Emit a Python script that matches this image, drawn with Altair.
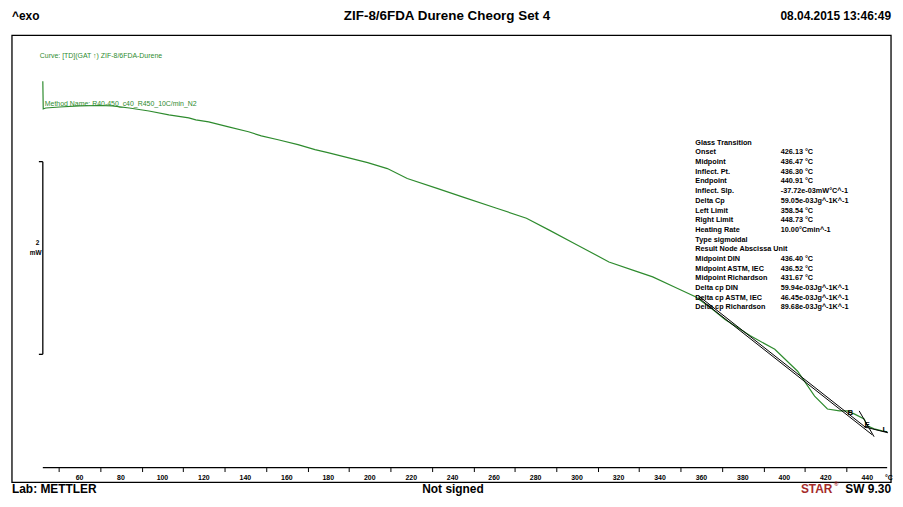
import altair as alt
import pandas as pd

# ---------------- data ----------------
curve_T = [42.3, 42.5, 43.7, 50.4, 60.0, 69.6, 75.8, 84.0, 93.5, 103.1,
           112.7, 116.1, 122.3, 131.9, 141.5, 147.7, 155.8, 165.4, 173.6, 179.8,
           189.4, 199.0, 208.5, 218.1, 232.5, 245.4, 261.2, 275.6, 286.6, 299.6,
           315.4, 328.3, 336.5, 347.5, 357.1, 364.3, 371.4, 383.4, 395.4, 406.4,
           414.6, 420.8, 426.6, 430.4, 433.7, 438.5, 440.0, 443.3, 447.2, 449.6]
curve_mW = [0.010, -0.278, -0.268, -0.258, -0.247, -0.242, -0.247, -0.268, -0.299, -0.340,
            -0.371, -0.392, -0.412, -0.464, -0.515, -0.557, -0.598, -0.649, -0.701, -0.732,
            -0.784, -0.835, -0.897, -1.000, -1.103, -1.196, -1.309, -1.412, -1.536, -1.684,
            -1.866, -1.961, -2.021, -2.131, -2.227, -2.340, -2.464, -2.629, -2.773, -3.000,
            -3.258, -3.392, -3.412, -3.412, -3.443, -3.495, -3.567, -3.598, -3.619, -3.629]

# evaluation (tangent / baseline) lines
seg_id = ["a", "a", "b", "b", "c", "c", "d", "d"]
seg_T = [358.5, 442.4, 358.5, 439.5, 436.1, 443.3, 438.5, 450.0]
seg_mW = [-2.237, -3.660, -2.216, -3.588, -3.412, -3.680, -3.577, -3.639]

# evaluation point markers
mark_txt = ["B", "E", "L"]
mark_T = [431.8, 440.0, 448.5]
mark_mW = [-3.433, -3.557, -3.610]

# y scale bar (2 mW)
bar_top = -0.825
bar_bottom = -2.825
bar_T = 42.3
bar_stub_T = 40.4

# x axis
tick_values = list(range(50, 441, 10))
label_values = list(range(60, 441, 20))
axis_start = 42.3
axis_end = 449.6

# result table
tbl_labels = ["Glass Transition", "Onset", "Midpoint", "Inflect. Pt.", "Endpoint",
              "Inflect. Slp.", "Delta Cp", "Left Limit", "Right Limit", "Heating Rate",
              "Type sigmoidal", "Result Node Abscissa Unit", "Midpoint DIN",
              "Midpoint ASTM, IEC", "Midpoint Richardson", "Delta cp DIN",
              "Delta cp ASTM, IEC", "Delta cp Richardson"]
tbl_values = ["", "426.13 °C", "436.47 °C", "436.30 °C", "440.91 °C",
              "-37.72e-03mW°C^-1", "59.05e-03Jg^-1K^-1", "358.54 °C", "448.73 °C",
              "10.00°Cmin^-1", "", "", "436.40 °C", "436.52 °C", "431.67 °C",
              "59.94e-03Jg^-1K^-1", "46.45e-03Jg^-1K^-1", "89.68e-03Jg^-1K^-1"]

title_txt = "ZIF-8/6FDA Durene Cheorg Set 4"
date_txt = "08.04.2015 13:46:49"
exo_txt = "^exo"
lab_txt = "Lab: METTLER"
sign_txt = "Not signed"
curve_txt = "Curve: [TD](GAT ↑) ZIF-8/6FDA-Durene"
method_txt = "Method Name: R40-450_c40_R450_10C/min_N2"

# ---------------- chart ----------------
W, H = 885, 435
FONT = "Liberation Sans"
GREEN = "#2e8b2e"

xs = alt.Scale(domain=[27.42, 451.47], nice=False, zero=False)
ys = alt.Scale(domain=[-4.0, 0.4845], nice=False, zero=False)

curve_df = pd.DataFrame({"T": curve_T, "mW": curve_mW, "i": range(len(curve_T))})
seg_df = pd.DataFrame({"seg": seg_id, "T": seg_T, "mW": seg_mW})
mk_df = pd.DataFrame({"t": mark_txt, "T": mark_T, "mW": mark_mW})
tbl_df = pd.DataFrame({"lab": tbl_labels, "val": tbl_values, "row": range(len(tbl_labels))})
lbl_df = pd.DataFrame({"T": label_values, "s": [str(v) for v in label_values]})
one = pd.DataFrame({"k": [0]})

frame = alt.Chart(one).mark_rect(fill=None, stroke="black", strokeWidth=1.3).encode(
    x=alt.value(0), x2=alt.value(W), y=alt.value(0), y2=alt.value(450))

curve = alt.Chart(curve_df).mark_line(color=GREEN, strokeWidth=1.2).encode(
    x=alt.X("T:Q", scale=xs, axis=alt.Axis(
        values=tick_values, labels=False,
        grid=False, domain=False, tickColor="black", tickSize=4, tickWidth=1,
        title=None)),
    y=alt.Y("mW:Q", scale=ys, axis=None),
    order="i:Q")

segs = alt.Chart(seg_df).mark_line(color="black", strokeWidth=1).encode(
    x=alt.X("T:Q", scale=xs), y=alt.Y("mW:Q", scale=ys), detail="seg:N")

marks = alt.Chart(mk_df).mark_text(font=FONT, fontSize=8, fontWeight="bold", color="black").encode(
    x=alt.X("T:Q", scale=xs), y=alt.Y("mW:Q", scale=ys), text="t:N")

xlabels = alt.Chart(lbl_df).mark_text(font=FONT, fontSize=7, fontWeight="bold", color="black",
                                      align="center", baseline="middle").encode(
    x=alt.X("T:Q", scale=xs), y=alt.value(H + 11), text="s:N")

axis_line = alt.Chart(one).mark_rule(color="black", strokeWidth=1.3).encode(
    x=alt.datum(axis_start, scale=xs), x2=alt.datum(axis_end), y=alt.value(H))

bar_v = alt.Chart(one).mark_rule(color="black", strokeWidth=1.3).encode(
    x=alt.datum(bar_T, scale=xs), y=alt.datum(bar_top, scale=ys), y2=alt.datum(bar_bottom))
bar_h1 = alt.Chart(one).mark_rule(color="black", strokeWidth=1.3).encode(
    x=alt.datum(bar_stub_T, scale=xs), x2=alt.datum(bar_T), y=alt.datum(bar_top, scale=ys))
bar_h2 = alt.Chart(one).mark_rule(color="black", strokeWidth=1.3).encode(
    x=alt.datum(bar_stub_T, scale=xs), x2=alt.datum(bar_T), y=alt.datum(bar_bottom, scale=ys))


def txt(s, x, y, size=7, weight="bold", color="black", align="left", font=FONT):
    return alt.Chart(one).mark_text(text=s, font=font, fontSize=size, fontWeight=weight,
                                    color=color, align=align, baseline="middle").encode(
        x=alt.value(x), y=alt.value(y))


bar_lbl = txt("2", 24, 209, size=6.5) + txt("mW", 18, 219, size=6.5)
degc = txt("°C", 879, 446, size=7)

TBL_SIZE = 7.3
tbl_lab = alt.Chart(tbl_df).mark_text(font=FONT, fontSize=TBL_SIZE, fontWeight="bold",
                                      color="black", align="left", baseline="middle").transform_calculate(
    yy="108 + datum.row * 9.75").encode(x=alt.value(688), y=alt.Y("yy:Q", scale=None), text="lab:N")
tbl_val = alt.Chart(tbl_df).mark_text(font=FONT, fontSize=TBL_SIZE, fontWeight="bold",
                                      color="black", align="left", baseline="middle").transform_calculate(
    yy="108 + datum.row * 9.75").encode(x=alt.value(774), y=alt.Y("yy:Q", scale=None), text="val:N")

header = (txt(exo_txt, 0, -20, size=12) +
          txt(title_txt, 438, -20, size=13.5, align="center") +
          txt(date_txt, W, -20, size=12, align="right"))
footer = (txt(lab_txt, 0, 457, size=12) +
          txt(sign_txt, 444, 457, size=12, align="center") +
          txt("STAR", 826, 457, size=12, align="right", color="#a52a2a") +
          txt("®", 832, 452, size=6, align="right", color="#a52a2a") +
          txt("SW 9.30", W, 457, size=12, align="right"))
green_txt = (txt(curve_txt, 28, 21, size=7, weight="normal", color=GREEN) +
             txt(method_txt, 33, 69, size=7, weight="normal", color=GREEN))

chart = alt.layer(
    frame, curve, segs, marks, xlabels, axis_line, bar_v, bar_h1, bar_h2, bar_lbl, degc,
    tbl_lab, tbl_val, header, footer, green_txt
).properties(
    width=W, height=H,
    autosize=alt.AutoSizeParams(type="none"),
    padding={"left": 4, "top": 26, "right": 4, "bottom": 30},
).configure_view(stroke=None)

chart.save("out.html", embed_options={"renderer": "svg", "actions": False})
